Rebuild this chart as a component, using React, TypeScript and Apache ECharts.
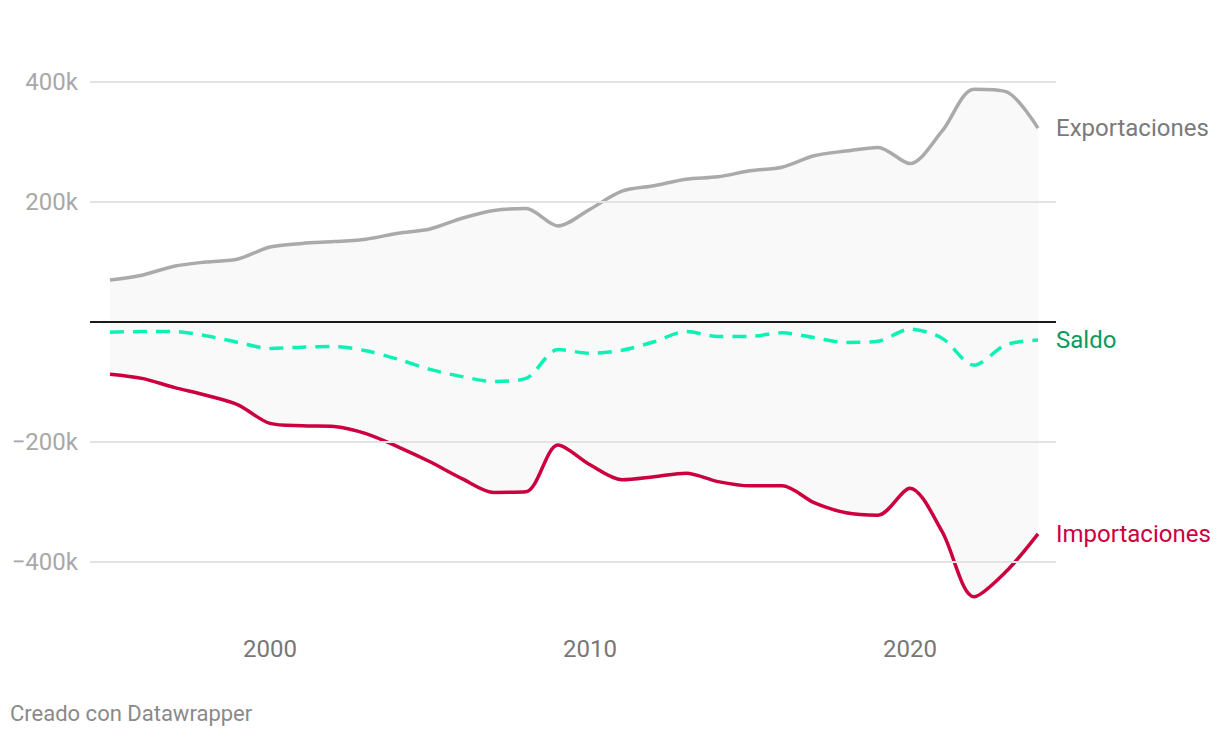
import React, { useEffect, useRef } from "react";
import * as echarts from "echarts";

const years = [1995, 1996, 1997, 1998, 1999, 2000, 2001, 2002, 2003, 2004, 2005, 2006, 2007, 2008, 2009, 2010, 2011, 2012, 2013, 2014, 2015, 2016, 2017, 2018, 2019, 2020, 2021, 2022, 2023, 2024];
const exportaciones = [70, 78, 93, 100, 105, 125, 131, 134, 138, 148, 155, 173, 186, 189, 160, 188, 218, 227, 238, 242, 252, 258, 277, 285, 291, 264, 318, 388, 384, 323];
const importaciones = [-87, -94, -109, -122, -138, -169, -173, -174, -186, -208, -233, -261, -284, -283, -205, -238, -263, -258, -252, -266, -273, -273, -301, -318, -322, -277, -349, -458, -416, -353];
const saldo = [-17, -16, -16, -23, -34, -44, -42, -41, -48, -62, -79, -91, -99, -94, -46, -52, -47, -33, -16, -24, -24, -18, -26, -34, -32, -12, -27, -72, -38, -30];
const xTicks = [2000, 2010, 2020];
const yTicks = [-400000, -200000, 200000, 400000];

const pairs = (vals: number[]) => years.map((y, i) => [y, vals[i] * 1000]);

export default function App() {
  const ref = useRef<HTMLDivElement>(null);
  useEffect(() => {
    document.body.style.margin = "0";
    const chart = echarts.init(ref.current!, undefined, { renderer: "svg" });
    const font = "Roboto, 'Noto Sans', sans-serif";
    const fmtY = (v: number) => (v < 0 ? "\u2212" : "") + Math.abs(v / 1000) + "k";
    const SM = 0.3;
    chart.setOption({
      animation: false,
      textStyle: { fontFamily: font },
      grid: { left: 90, right: 164, top: 82, bottom: 116, containLabel: false },
      xAxis: {
        type: "value",
        min: 1994.375,
        max: 2024.5625,
        splitLine: { show: false },
        axisLine: { show: false },
        axisTick: { show: false },
        axisLabel: {
          customValues: xTicks,
          color: "#777777",
          fontSize: 24,
          fontFamily: font,
          margin: 15,
          formatter: (v: number) => String(v),
        },
      },
      yAxis: {
        type: "value",
        min: -500000,
        max: 400000,
        splitLine: { show: false },
        axisLine: { show: false },
        axisTick: { show: false },
        axisLabel: {
          customValues: yTicks,
          color: "#a8a8a8",
          fontSize: 24,
          fontFamily: font,
          margin: 12,
          formatter: fmtY,
        },
      },
      series: [
        {
          name: "grid",
          type: "line",
          data: [],
          silent: true,
          z: 1,
          markLine: {
            silent: true,
            symbol: "none",
            label: { show: false },
            lineStyle: { color: "#e3e3e3", width: 2, type: "solid" },
            data: yTicks.map((v) => ({ yAxis: v })),
          },
        },
        {
          name: "Exportaciones",
          type: "line",
          data: pairs(exportaciones),
          smooth: SM,
          showSymbol: false,
          z: 3,
          lineStyle: { color: "#aaaaaa", width: 3.5 },
          itemStyle: { color: "#aaaaaa" },
          areaStyle: { color: "#f9f9f9", opacity: 1, origin: "auto" },
          endLabel: {
            show: true,
            formatter: "Exportaciones",
            color: "#7a7a7a",
            fontSize: 24,
            fontFamily: font,
            distance: 18,
          },
        },
        {
          name: "Importaciones",
          type: "line",
          data: pairs(importaciones),
          smooth: SM,
          showSymbol: false,
          z: 3,
          lineStyle: { color: "#cc003f", width: 3.5 },
          itemStyle: { color: "#cc003f" },
          areaStyle: { color: "#f9f9f9", opacity: 1, origin: "auto" },
          endLabel: {
            show: true,
            formatter: "Importaciones",
            color: "#cc003f",
            fontSize: 24,
            fontFamily: font,
            distance: 18,
          },
        },
        {
          name: "zero",
          type: "line",
          data: [],
          silent: true,
          z: 4,
          markLine: {
            silent: true,
            symbol: "none",
            label: { show: false },
            lineStyle: { color: "#1a1a1a", width: 2, type: "solid" },
            data: [{ yAxis: 0 }],
          },
        },
        {
          name: "Saldo",
          type: "line",
          data: pairs(saldo),
          smooth: SM,
          showSymbol: false,
          z: 5,
          lineStyle: { color: "#0ff0b4", width: 3.5, type: [14, 9] },
          itemStyle: { color: "#0ff0b4" },
          endLabel: {
            show: true,
            formatter: "Saldo",
            color: "#0a9a5e",
            fontSize: 24,
            fontFamily: font,
            distance: 18,
          },
        },
      ],
      graphic: [
        {
          type: "text",
          left: 10,
          top: 702,
          style: {
            text: "Creado con Datawrapper",
            fill: "#8a8a8a",
            fontSize: 22,
            fontFamily: font,
          },
        },
      ],
    });
    return () => chart.dispose();
  }, []);
  return <div ref={ref} style={{ width: 1220, height: 738 }} />;
}
